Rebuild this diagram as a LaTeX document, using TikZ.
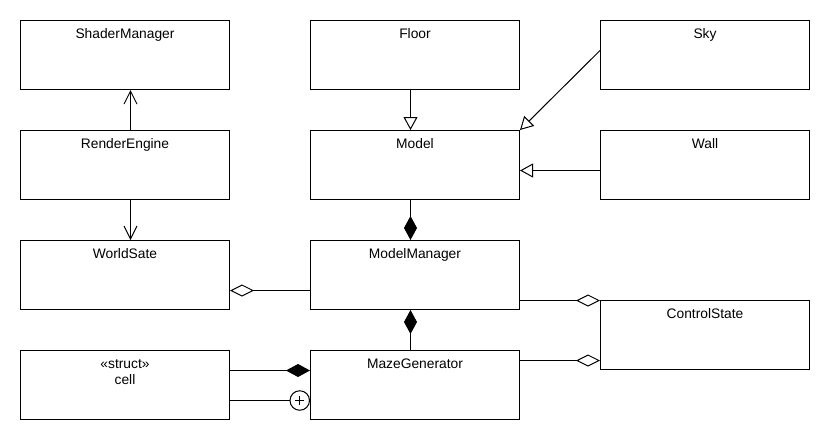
\documentclass[tikz,border=0pt]{standalone}
\usepackage{fontspec}
\setmainfont{Liberation Sans}
\usetikzlibrary{arrows.meta,calc}
\begin{document}
\begin{tikzpicture}[x=1pt,y=-1pt,
  box/.style={draw, line width=1pt, minimum width=209pt, minimum height=69pt, inner sep=0pt, anchor=north west},
  lbl/.style={anchor=base, inner sep=0pt, font=\fontsize{13.8pt}{16pt}\selectfont},
  conn/.style={line width=1pt},
  openarrow/.style={conn, -{Straight Barb[length=13pt,width=13pt,line width=1pt]}},
  inherit/.style={conn, -{Triangle[open,length=13pt,width=14pt,fill=white,line width=1pt]}},
  compo/.style={conn, -{Diamond[length=24pt,width=13pt]}},
  aggr/.style={conn, -{Diamond[open,length=24pt,width=12pt,fill=white,line width=1pt]}}]
\useasboundingbox (0,0) rectangle (830,440);
\fill[white] (0,0) rectangle (830,440);
% boxes
\node[box] (shader) at (20,20) {};
\node[box] (render) at (20,130) {};
\node[box] (world) at (20,240) {};
\node[box] (cell) at (20,350) {};
\node[box] (floor) at (310,20) {};
\node[box] (model) at (310,130) {};
\node[box] (mm) at (310,240) {};
\node[box] (maze) at (310,350) {};
\node[box] (sky) at (600,20) {};
\node[box] (wall) at (600,130) {};
\node[box] (cs) at (600,300) {};
% labels
\node[lbl] (shaderL) at ($(shader.north)+(0,18.3)$) {ShaderManager};
\node[lbl] (renderL) at ($(render.north)+(0,18.3)$) {RenderEngine};
\node[lbl] (worldL) at ($(world.north)+(0,18.3)$) {WorldSate};
\node[lbl] (cellS) at ($(cell.north)+(0,18.3)$) {«struct»};
\node[lbl] (cellL) at ($(cell.north)+(0,34.3)$) {cell};
\node[lbl] (floorL) at ($(floor.north)+(0,18.3)$) {Floor};
\node[lbl] (modelL) at ($(model.north)+(0,18.3)$) {Model};
\node[lbl] (mmL) at ($(mm.north)+(0,18.3)$) {ModelManager};
\node[lbl] (mazeL) at ($(maze.north)+(0,18.3)$) {MazeGenerator};
\node[lbl] (skyL) at ($(sky.north)+(0,18.3)$) {Sky};
\node[lbl] (wallL) at ($(wall.north)+(0,18.3)$) {Wall};
\node[lbl] (csL) at ($(cs.north)+(0,18.3)$) {ControlState};
% connectors
\draw[openarrow] ($(render.north)+(5.5,0)$) -- ($(shader.south)+(5.5,0)$);
\draw[openarrow] ($(render.south)+(5.5,0)$) -- ($(world.north)+(5.5,0)$);
\draw[inherit] ($(floor.south)+(-4.5,0)$) -- ($(model.north)+(-4.5,0)$);
\draw[inherit] ($(sky.west)+(0,-4.5)$) -- (model.north east);
\coordinate (w1) at ($(wall.west)+(0,5.5)$);
\draw[inherit] (w1) -- (w1 -| model.east);
\draw[compo] ($(model.south)+(-4.5,0)$) -- ($(mm.north)+(-4.5,0)$);
\draw[compo] ($(maze.north)+(-4.5,0)$) -- ($(mm.south)+(-4.5,0)$);
\coordinate (a1) at ($(mm.west)+(0,15.5)$);
\draw[aggr] (a1) -- (a1 -| world.east);
\coordinate (a2) at ($(mm.east)+(0,25.5)$);
\draw[aggr] (a2) -- (a2 -| cs.west);
\coordinate (a3) at ($(maze.east)+(0,-24.5)$);
\draw[aggr] (a3) -- (a3 -| cs.west);
\coordinate (c1) at ($(cell.east)+(0,-14.5)$);
\draw[compo] (c1) -- (c1 -| maze.west);
\node[circle, draw, line width=1pt, fill=white, minimum size=19.5pt, inner sep=0pt, anchor=east] (nest) at ($(maze.west)+(0,15.5)$) {};
\draw[conn] (nest.center) ++(-4.5,0) -- ++(9,0);
\draw[conn] (nest.center) ++(0,-4.5) -- ++(0,9);
\draw[conn] (cell.east |- nest.west) -- (nest.west);
\end{tikzpicture}
\end{document}
